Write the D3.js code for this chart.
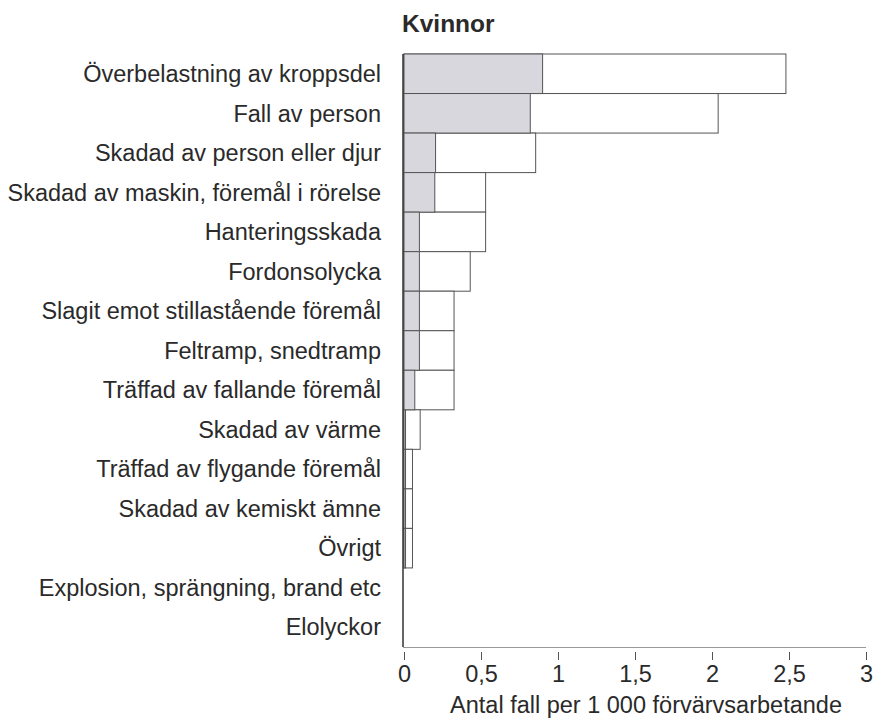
<!DOCTYPE html>
<html><head><meta charset="utf-8">
<script src="https://cdn.jsdelivr.net/npm/d3@7"></script>
<style>body{margin:0;background:#fff;}text{font-family:"Liberation Sans",Arial,sans-serif;}</style>
</head><body>
<svg id="c" width="878" height="727"></svg>
<script>
const categories = ["Överbelastning av kroppsdel","Fall av person","Skadad av person eller djur","Skadad av maskin, föremål i rörelse","Hanteringsskada","Fordonsolycka","Slagit emot stillastående föremål","Feltramp, snedtramp","Träffad av fallande föremål","Skadad av värme","Träffad av flygande föremål","Skadad av kemiskt ämne","Övrigt","Explosion, sprängning, brand etc","Elolyckor"];
const totalValues = [2.48, 2.04, 0.855, 0.53, 0.53, 0.43, 0.325, 0.325, 0.325, 0.105, 0.055, 0.055, 0.055, 0, 0];
const shadedValues = [0.9, 0.82, 0.205, 0.2, 0.1, 0.1, 0.1, 0.1, 0.07, 0.01, 0.01, 0.01, 0.01, 0, 0];
const tickValues = [0, 0.5, 1, 1.5, 2, 2.5, 3];
const title = "Kvinnor";
const xTitle = "Antal fall per 1 000 förvärvsarbetande";

const FS = 23.5;
const svg = d3.select("#c");
const x = d3.scaleLinear().domain([0, 3]).range([404, 866]);
const y = d3.scaleBand().domain(categories).range([54, 647]).padding(0);

svg.append("text").attr("x", 402).attr("y", 32).attr("font-size", 24.5).attr("font-weight", "bold").attr("fill", "#2a2a2a").text(title);

const g = svg.append("g");
g.selectAll("rect.tot").data(categories).join("rect").attr("class","tot")
  .attr("x", x(0)).attr("y", d => y(d)).attr("height", y.bandwidth())
  .attr("width", (d,i) => x(totalValues[i]) - x(0))
  .attr("fill", "#fff").attr("stroke", "#555").attr("stroke-width", 1)
  .style("display", (d,i) => totalValues[i] > 0 ? null : "none");
g.selectAll("rect.sh").data(categories).join("rect").attr("class","sh")
  .attr("x", x(0)).attr("y", d => y(d)).attr("height", y.bandwidth())
  .attr("width", (d,i) => x(shadedValues[i]) - x(0))
  .attr("fill", "#d9d7de").attr("stroke", "#555").attr("stroke-width", 1)
  .style("display", (d,i) => shadedValues[i] > 0 ? null : "none");

// labels
svg.selectAll("text.lab").data(categories).join("text").attr("class","lab")
  .attr("x", 381).attr("y", d => y(d) + y.bandwidth()/2).attr("dy", "0.35em")
  .attr("text-anchor", "end").attr("font-size", FS).attr("fill", "#2a2a2a").text(d => d);

// y axis line
svg.append("line").attr("x1", 403).attr("x2", 403).attr("y1", 54).attr("y2", 647).attr("stroke", "#333").attr("stroke-width", 1.5);
// x axis line
svg.append("line").attr("x1", 403).attr("x2", 866).attr("y1", 647.5).attr("y2", 647.5).attr("stroke", "#999").attr("stroke-width", 1);

const xa = svg.append("g").attr("transform", "translate(0,652)")
  .call(d3.axisBottom(x).tickValues(tickValues).tickSize(8).tickPadding(5).tickFormat(d => String(d).replace(".", ",")));
xa.select(".domain").remove();
xa.selectAll("line").attr("stroke", "#555");
xa.selectAll("text").attr("font-size", FS).attr("fill", "#2a2a2a").attr("font-family", "Liberation Sans, Arial, sans-serif");

svg.append("text").attr("x", 646).attr("y", 713).attr("text-anchor", "middle").attr("font-size", FS).attr("fill", "#2a2a2a").text(xTitle);
</script>
</body></html>
